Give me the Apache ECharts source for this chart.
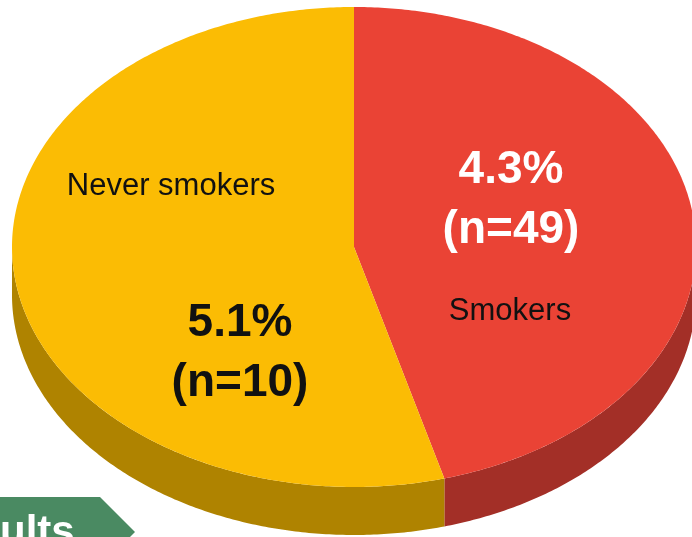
<!DOCTYPE html>
<html>
<head>
<meta charset="utf-8">
<script src="https://cdn.jsdelivr.net/npm/echarts@6/dist/echarts.min.js"></script>
<style>
  html, body { margin: 0; padding: 0; background: #ffffff; }
  #chart { width: 692px; height: 537px; }
</style>
</head>
<body>
<div id="chart"></div>
<script>
// ---- data ----
const categories = ['Smokers', 'Never smokers'];
const shares = [4.3, 5.1];          // pie slice values (percent)
const counts = [49, 10];            // n per group
const bannerText = 'ults';

// ---- styling / layout (not data) ----
const topColors = ['#EA4335', '#FBBC04'];
const sideColors = ['#A32F27', '#AF8300'];
const geo = { cx: 354, cy: 247, rx: 342, ry: 240, depth: 48 };
const labelLayout = [
  { value: { x: 511, y: 200, fill: '#ffffff' }, name: { x: 510, y: 311 } },
  { value: { x: 240, y: 353, fill: '#111111' }, name: { x: 171, y: 186 } }
];

const total = shares.reduce((a, b) => a + b, 0);
const FONT = '"Liberation Sans", Arial, Helvetica, sans-serif';

function pt(t, dy) {
  return [geo.cx + geo.rx * Math.sin(t), geo.cy - geo.ry * Math.cos(t) + (dy || 0)];
}
function arc(a, b, dy) {
  const pts = [];
  const n = Math.max(2, Math.ceil(Math.abs(b - a) / 0.01));
  for (let i = 0; i <= n; i++) pts.push(pt(a + (b - a) * i / n, dy));
  return pts;
}

function renderItem(params, api) {
  const i = params.dataIndex;
  let before = 0;
  for (let k = 0; k < i; k++) before += shares[k];
  const start = before / total * Math.PI * 2;
  const end = (before + api.value(0)) / total * Math.PI * 2;
  const children = [];
  // side wall (front half only)
  const a = Math.max(start, Math.PI / 2), b = Math.min(end, Math.PI * 1.5);
  if (b > a) {
    const top = arc(a, b, 0);
    const bottom = arc(a, b, geo.depth).reverse();
    children.push({ type: 'polygon', shape: { points: top.concat(bottom) },
      style: { fill: sideColors[i] } });
  }
  // top face
  children.push({ type: 'polygon',
    shape: { points: [[geo.cx, geo.cy]].concat(arc(start, end, 0)) },
    style: { fill: topColors[i] } });
  const L = labelLayout[i];
  children.push({ type: 'text', style: {
    text: api.value(0).toFixed(1) + '%\n(n=' + counts[i] + ')',
    x: L.value.x, y: L.value.y, align: 'center', verticalAlign: 'middle',
    font: 'bold 46px ' + FONT, lineHeight: 60, fill: L.value.fill } });
  children.push({ type: 'text', style: {
    text: categories[i], x: L.name.x, y: L.name.y, align: 'center', verticalAlign: 'middle',
    font: '31px ' + FONT, fill: '#111111' } });
  return { type: 'group', children: children };
}

const chart = echarts.init(document.getElementById('chart'), null, { renderer: 'canvas' });
chart.setOption({
  backgroundColor: '#ffffff',
  animation: false,
  series: [{
    type: 'custom',
    coordinateSystem: 'none',
    renderItem: renderItem,
    data: shares.map((v, i) => ({ value: [v], name: categories[i] }))
  }],
  graphic: [
    { type: 'polygon', z: 10,
      shape: { points: [[0, 497], [100, 497], [135, 532], [130, 537], [0, 537]] },
      style: { fill: '#4A8A62' } },
    { type: 'text', z: 11, left: 0, top: 512,
      style: { text: bannerText, font: 'bold 42px ' + FONT, fill: '#ffffff' } }
  ]
});
</script>
</body>
</html>
